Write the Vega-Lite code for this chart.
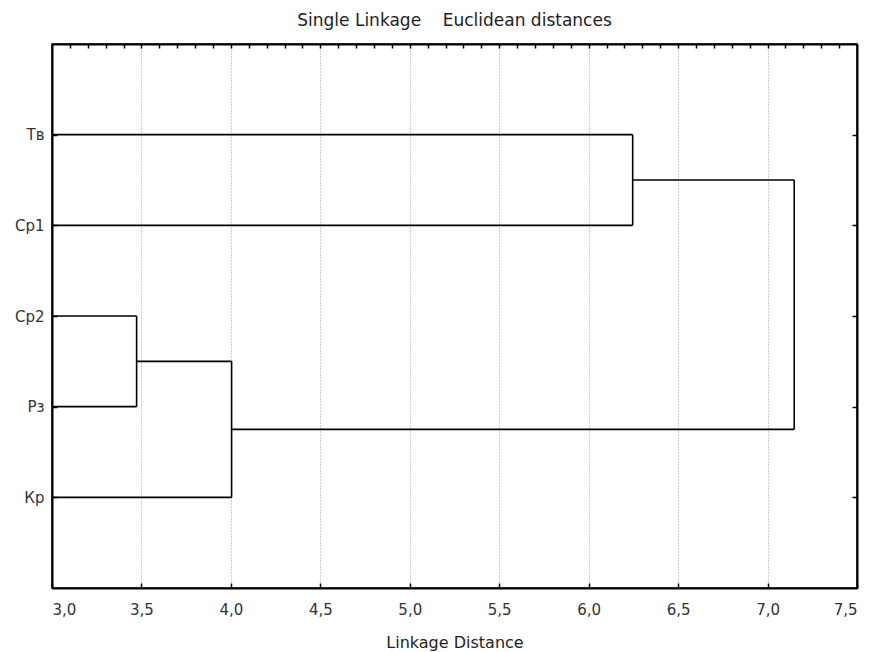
{
  "$schema": "https://vega.github.io/schema/vega-lite/v6.json",
  "width": 805,
  "height": 544,
  "autosize": {"type": "none"},
  "padding": {"left": 52, "top": 44, "right": 19, "bottom": 64},
  "background": "white",
  "title": {
    "text": "Single Linkage\u00a0\u00a0\u00a0\u00a0Euclidean distances",
    "font": "DejaVu Sans",
    "fontSize": 17,
    "fontWeight": "normal",
    "color": "#222",
    "anchor": "middle",
    "offset": 13
  },
  "config": {
    "view": {"stroke": "#000", "strokeWidth": 1.5},
    "axis": {
      "labelFont": "DejaVu Sans",
      "titleFont": "DejaVu Sans",
      "labelFontSize": 15,
      "titleFontSize": 16,
      "titleFontWeight": "normal",
      "labelColor": "#333",
      "titleColor": "#222",
      "domainColor": "#000",
      "domainWidth": 2,
      "tickColor": "#000",
      "tickWidth": 1.5
    }
  },
  "data": {
    "values": [
      {"x": 3.0, "x2": 6.246, "y": 1, "y2": 1},
      {"x": 3.0, "x2": 6.246, "y": 2, "y2": 2},
      {"x": 6.246, "x2": 6.246, "y": 1, "y2": 2},
      {"x": 6.246, "x2": 7.149, "y": 1.5, "y2": 1.5},
      {"x": 3.0, "x2": 3.473, "y": 3, "y2": 3},
      {"x": 3.0, "x2": 3.473, "y": 4, "y2": 4},
      {"x": 3.473, "x2": 3.473, "y": 3, "y2": 4},
      {"x": 3.473, "x2": 4.004, "y": 3.5, "y2": 3.5},
      {"x": 3.0, "x2": 4.004, "y": 5, "y2": 5},
      {"x": 4.004, "x2": 4.004, "y": 3.5, "y2": 5},
      {"x": 4.004, "x2": 7.149, "y": 4.25, "y2": 4.25},
      {"x": 7.149, "x2": 7.149, "y": 1.5, "y2": 4.25}
    ]
  },
  "layer": [
    {
      "mark": {"type": "rule", "color": "#000", "strokeWidth": 1.6},
      "encoding": {
        "x": {
          "field": "x",
          "type": "quantitative",
          "scale": {"domain": [3, 7.5], "nice": false, "zero": false},
          "axis": {
            "orient": "bottom",
            "title": "Linkage Distance",
            "titlePadding": 17,
            "values": [3, 3.5, 4, 4.5, 5, 5.5, 6, 6.5, 7, 7.5],
            "labelExpr": "replace(format(datum.value, '.1f'), '.', ',')",
            "tickSize": -5,
            "labelPadding": 19,
            "grid": true,
            "gridColor": "#9a9a9a",
            "gridDash": [1, 2],
            "gridWidth": 1
          }
        },
        "x2": {"field": "x2"},
        "y": {
          "field": "y",
          "type": "quantitative",
          "scale": {"domain": [0, 6], "nice": false, "zero": false, "reverse": true},
          "axis": {
            "orient": "left",
            "title": null,
            "values": [1, 2, 3, 4, 5],
            "labelExpr": "['', 'Тв', 'Ср1', 'Ср2', 'Рз', 'Кр'][datum.value]",
            "tickSize": -5,
            "labelPadding": 13,
            "grid": false
          }
        },
        "y2": {"field": "y2"}
      }
    },
    {
      "mark": {"type": "rule", "strokeOpacity": 0},
      "encoding": {
        "x": {
          "field": "x",
          "type": "quantitative",
          "axis": {
            "orient": "top",
            "title": null,
            "labels": false,
            "grid": false,
            "tickSize": -4,
            "values": [3.1, 3.2, 3.3, 3.4, 3.5, 3.6, 3.7, 3.8, 3.9, 4.0, 4.1, 4.2, 4.3, 4.4, 4.5, 4.6, 4.7, 4.8, 4.9, 5.0, 5.1, 5.2, 5.3, 5.4, 5.5, 5.6, 5.7, 5.8, 5.9, 6.0, 6.1, 6.2, 6.3, 6.4, 6.5, 6.6, 6.7, 6.8, 6.9, 7.0, 7.1, 7.2, 7.3, 7.4]
          }
        },
        "x2": {"field": "x2"},
        "y": {
          "field": "y",
          "type": "quantitative",
          "axis": {
            "orient": "right",
            "title": null,
            "labels": false,
            "grid": false,
            "tickSize": -5,
            "values": [1, 2, 3, 4, 5]
          }
        },
        "y2": {"field": "y2"}
      }
    }
  ]
}
